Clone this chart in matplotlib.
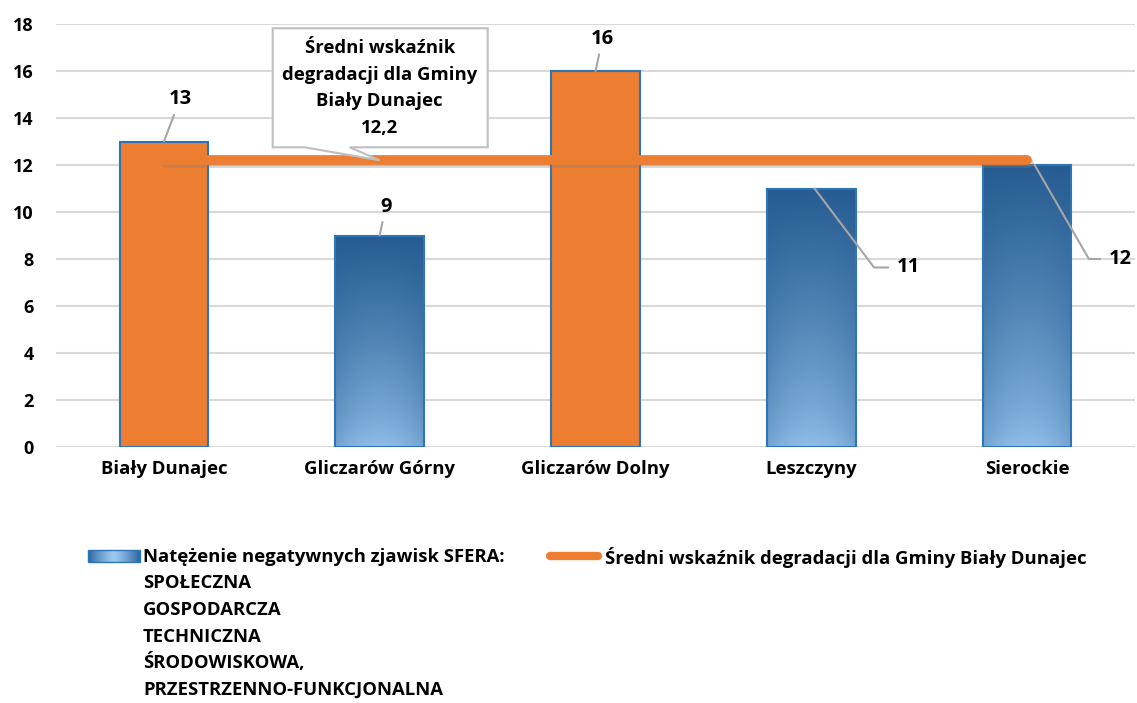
import numpy as np
import matplotlib.pyplot as plt
from matplotlib.patches import Rectangle, Polygon
from matplotlib.lines import Line2D
from matplotlib.transforms import Affine2D
import matplotlib.patheffects as pe

plt.rcParams['font.family'] = ['Open Sans', 'DejaVu Sans']
plt.rcParams['font.weight'] = 'bold'

# --------------------------------------------------
# Data
# --------------------------------------------------
categories = ["Biały Dunajec", "Gliczarów Górny", "Gliczarów Dolny", "Leszczyny", "Sierockie"]
values = [13, 9, 16, 11, 12]
average = 12.2
avg_label = "12,2"

bar_label = ["Natężenie negatywnych zjawisk SFERA:", "SPOŁECZNA", "GOSPODARCZA",
             "TECHNICZNA", "ŚRODOWISKOWA,", "PRZESTRZENNO-FUNKCJONALNA"]
line_label = "Średni wskaźnik degradacji dla Gminy Biały Dunajec"
callout_lines = ["Średni wskaźnik", "degradacji dla Gminy", "Biały Dunajec", avg_label]

ORANGE = "#ED7D31"
EDGE = "#2E75B6"
FS = 13.3


def blue_gradient(n=200):
    # vertical gradient, dark at top, light at bottom, brighter in the middle
    t = np.linspace(0, 1, n)[:, None]          # 0 = bottom, 1 = top
    s = np.linspace(-1, 1, 60)[None, :]
    light = np.array([0x8F, 0xBE, 0xE8]) / 255
    dark = np.array([0x26, 0x5C, 0x92]) / 255
    w = (t ** 0.8) + 0.25 * (s ** 2) * (1 - t)
    w = np.clip(w, 0, 1)[..., None]
    return light * (1 - w) + dark * w


grad = blue_gradient()

# --------------------------------------------------
# Plot
# --------------------------------------------------
fig = plt.figure(figsize=(11.37, 7.03), dpi=100)
ax = fig.add_axes([56 / 1137, 1 - 447 / 703, 1079 / 1137, 423 / 703])

x = np.arange(len(categories))
width = 0.41

for xi, v in zip(x, values):
    if v > average:
        ax.bar(xi, v, width, color=ORANGE, edgecolor=EDGE, linewidth=1.5, zorder=2)
    else:
        bars = ax.bar(xi, v, width, color="none", edgecolor=EDGE, linewidth=1.5, zorder=3)
        im = ax.imshow(grad, extent=[xi - width / 2, xi + width / 2, 0, v],
                       origin="lower", aspect="auto", zorder=2)
        im.set_clip_path(bars[0])

# average line
ax.plot([x[0], x[-1]], [average] * 2, color=ORANGE, linewidth=7,
        solid_capstyle="round", zorder=4,
        path_effects=[pe.SimpleLineShadow(offset=(1.5, -2), alpha=0.35, shadow_color="gray"),
                      pe.Normal()])

ax.set_xlim(-0.5, len(categories) - 0.5)
ax.set_ylim(0, 18)
ax.set_yticks(range(0, 19, 2))
ax.set_xticks(x)
ax.set_xticklabels(categories, fontsize=FS, fontweight="bold")
ax.tick_params(axis="y", labelsize=13, length=0, pad=16)
ax.tick_params(axis="x", length=0, pad=9)
for lbl in ax.get_yticklabels():
    lbl.set_fontweight("bold")
ax.grid(axis="y", color="#d9d9d9", linewidth=1.5, zorder=0)
ax.set_axisbelow(True)
for s in ax.spines.values():
    s.set_visible(False)

# data labels with leader lines (offsets in pixels)
LFS = 14.5
leader = dict(arrowstyle="-", color="#a6a6a6", lw=1.5, shrinkA=2, shrinkB=0)
offsets = [(16, 42), (6, 29), (7, 32), None, None]
for xi, v, off in zip(x, values, offsets):
    if off is not None:
        ax.annotate(str(v), xy=(xi, v), xytext=off, textcoords="offset pixels",
                    ha="center", va="center", fontsize=LFS, fontweight="bold",
                    arrowprops=leader, zorder=6)

ax.annotate(str(values[3]), xy=(x[3] + 0.015, values[3]), xytext=(82, -79),
            textcoords="offset pixels", ha="left", va="center", fontsize=LFS,
            fontweight="bold", zorder=6,
            arrowprops=dict(leader, relpos=(0, 0.5), shrinkA=4,
                            connectionstyle="angle,angleA=0,angleB=127,rad=0"))
ax.annotate(str(values[4]), xy=(x[4] + 0.035, values[4]), xytext=(74, -94),
            textcoords="offset pixels", ha="left", va="center", fontsize=LFS,
            fontweight="bold", zorder=6,
            arrowprops=dict(leader, relpos=(0, 0.5), shrinkA=4,
                            connectionstyle="angle,angleA=0,angleB=120,rad=0"))

# callout for the average line: box with a tail, in pixel offsets from the point
fig.canvas.draw()
px, py = ax.transData.transform((x[1], average))
ctrans = Affine2D().translate(px, py)
callout = Polygon([(-107, 13), (-75, 13), (0, 0), (-30, 13), (108, 13),
                   (108, 132), (-107, 132)], closed=True, fc="white", ec="#bfbfbf",
                  lw=1.5, transform=ctrans, zorder=7, clip_on=False)
ax.add_artist(callout)
for i, line in enumerate(callout_lines):
    ax.text(0, 112 - i * 26.5, line, transform=ctrans, ha="center", va="center",
            fontsize=FS, fontweight="bold", zorder=8)

# --------------------------------------------------
# Legend (drawn manually)
# --------------------------------------------------
lax = fig.add_axes([0, 0, 1, 1])
lax.set_xlim(0, 1137)
lax.set_ylim(703, 0)
lax.axis("off")
s = np.linspace(-1, 1, 80)
light = np.array([0x9C, 0xC8, 0xEE]) / 255
dark = np.array([0x2B, 0x66, 0xA3]) / 255
w = (np.abs(s) ** 1.3)[None, :, None]
hgrad = light * (1 - w) + dark * w
lax.imshow(np.repeat(hgrad, 4, axis=0), extent=[88, 140, 562, 550], aspect="auto", zorder=2)
lax.add_patch(Rectangle((88, 550), 52, 12, fill=False, ec=EDGE, lw=1, zorder=3))
for i, line in enumerate(bar_label):
    lax.text(143, 557 + i * 26.5, line, ha="left", va="center", fontsize=FS,
             fontweight="bold")
lax.add_line(Line2D([550, 598], [556, 556], color=ORANGE, lw=6, solid_capstyle="round"))
lax.text(605, 557, line_label, ha="left", va="center", fontsize=FS, fontweight="bold")

plt.savefig("out.png", dpi=100)
